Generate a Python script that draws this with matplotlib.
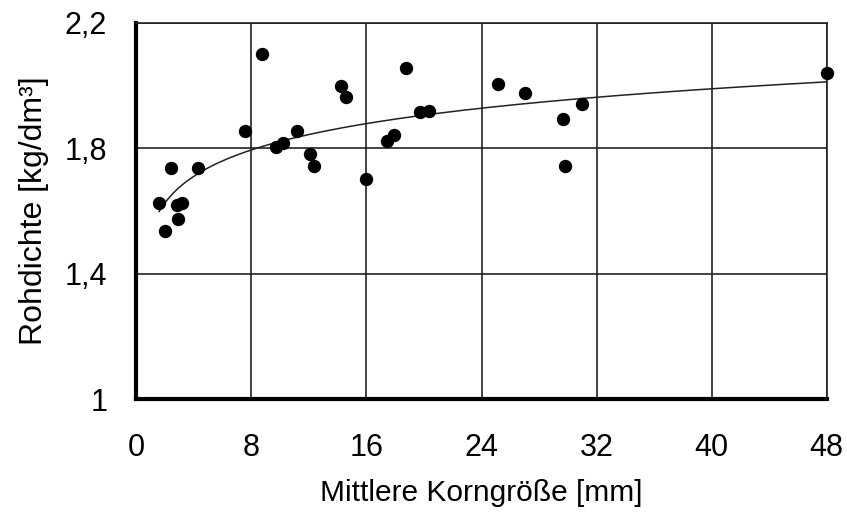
import numpy as np
import matplotlib
matplotlib.use("Agg")
import matplotlib.pyplot as plt
from matplotlib.ticker import FuncFormatter

# mean grain size [mm] and bulk density [kg/dm3] of the samples
korngroesse = [8.73, 14.22, 14.57, 7.52, 11.16, 9.70, 10.19, 12.04, 12.32, 15.96,
               2.41, 4.29, 1.58, 2.81, 3.20, 2.92, 2.00,
               18.75, 19.74, 20.32, 17.42, 17.88, 25.17, 27.03, 30.99, 29.67,
               29.83, 48.04]
rohdichte = [2.100, 2.000, 1.962, 1.856, 1.856, 1.803, 1.816, 1.782, 1.744, 1.703,
             1.737, 1.737, 1.625, 1.618, 1.625, 1.576, 1.538,
             2.056, 1.917, 1.920, 1.824, 1.842, 2.004, 1.977, 1.942, 1.895,
             1.744, 2.040]

x_ticks = [0, 8, 16, 24, 32, 40, 48]
y_ticks = [1.0, 1.4, 1.8, 2.2]

plt.rcParams["font.family"] = ["Liberation Sans", "DejaVu Sans"]

fig = plt.figure(figsize=(8.47, 5.18), dpi=100)
ax = fig.add_axes([0.161, 0.229, 0.815, 0.727])

x = np.array(korngroesse)
y = np.array(rohdichte)

# logarithmic trend line over the measured range
b, a = np.polyfit(np.log(x), y, 1)
xt = np.linspace(x.min(), x.max(), 200)
ax.plot(xt, a + b * np.log(xt), color="#222222", linewidth=1.1, zorder=3)

ax.plot(x, y, "o", color="black", markersize=8.6, zorder=4, clip_on=False)

ax.set_xlim(0, 48)
ax.set_ylim(1.0, 2.2)
ax.set_xticks(x_ticks)
ax.set_yticks(y_ticks)
ax.yaxis.set_major_formatter(FuncFormatter(
    lambda v, _: "1" if abs(v - 1) < 1e-9 else f"{v:.1f}".replace(".", ",")))

ax.grid(True, color="#222222", linewidth=1.2)
ax.set_axisbelow(True)
ax.tick_params(length=0, labelsize=22)
ax.tick_params(axis="y", pad=21)
ax.tick_params(axis="x", pad=24)

for side in ("top", "right"):
    ax.spines[side].set_linewidth(1.2)
    ax.spines[side].set_color("#222222")
for side in ("left", "bottom"):
    ax.spines[side].set_linewidth(3)
    ax.spines[side].set_color("black")

ax.set_xlabel("Mittlere Korngröße [mm]", fontsize=21.5, labelpad=12)
ax.set_ylabel("Rohdichte [kg/dm³]", fontsize=23, labelpad=11)

fig.savefig("out.png", dpi=100)
